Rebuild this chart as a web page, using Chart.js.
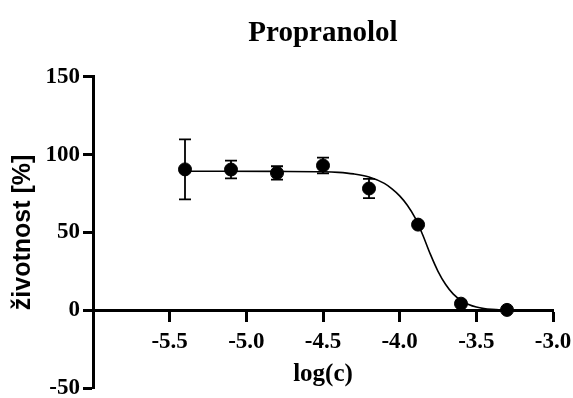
<!DOCTYPE html>
<html>
<head>
<meta charset="utf-8">
<script src="https://cdn.jsdelivr.net/npm/chart.js@4"></script>
<style>
  html, body { margin: 0; padding: 0; background: #fff; }
  #wrap { width: 573px; height: 398px; }
</style>
</head>
<body>
<div id="wrap"><canvas id="chart" width="573" height="398"></canvas></div>
<script>
// measured points (log concentration vs survival %)
const logConc = [-5.4, -5.1, -4.8, -4.5, -4.2, -3.88, -3.6, -3.3];
const survival = [90.5, 90.4, 88.2, 93.0, 78.2, 55.0, 4.2, 0.2];
const survivalErr = [19.3, 5.7, 4.3, 5.1, 6.2, 0.8, 0.8, 0.4];

// fitted curve
const curveX = [-5.4, -4.8, -4.5, -4.4, -4.3, -4.2, -4.1, -4.05, -4.0, -3.95, -3.9, -3.85, -3.8, -3.75, -3.7, -3.65, -3.6, -3.55, -3.5, -3.45, -3.4, -3.3];
const curveY = [89.3, 89.2, 89.0, 88.6, 87.6, 85.6, 81.5, 78.0, 73.5, 67.5, 59.5, 48.5, 36.0, 25.0, 16.5, 10.3, 6.3, 3.7, 2.0, 1.0, 0.5, 0.0];

const xTicks = [-5.5, -5.0, -4.5, -4.0, -3.5, -3.0];
const yTicks = [-50, 0, 50, 100, 150];

const serif = 'Liberation Serif';

// draws the vertical error bars with caps
const errorBars = {
    id: 'errorBars',
    afterDatasetsDraw(chart) {
        const ctx = chart.ctx;
        const meta = chart.getDatasetMeta(0);
        const yScale = chart.scales.y;
        ctx.save();
        ctx.strokeStyle = '#000';
        ctx.lineWidth = 1.8;
        meta.data.forEach((pt, i) => {
            const top = yScale.getPixelForValue(survival[i] + survivalErr[i]);
            const bot = yScale.getPixelForValue(survival[i] - survivalErr[i]);
            ctx.beginPath();
            ctx.moveTo(pt.x, top);
            ctx.lineTo(pt.x, bot);
            ctx.moveTo(pt.x - 6, top);
            ctx.lineTo(pt.x + 6, top);
            ctx.moveTo(pt.x - 6, bot);
            ctx.lineTo(pt.x + 6, bot);
            ctx.stroke();
        });
        ctx.restore();
    }
};

new Chart(document.getElementById('chart'), {
    type: 'scatter',
    data: {
        datasets: [{
            data: logConc.map((x, i) => ({ x: x, y: survival[i] })),
            backgroundColor: '#000',
            borderColor: '#000',
            pointRadius: 6.5,
            showLine: false
        }, {
            data: curveX.map((x, i) => ({ x: x, y: curveY[i] })),
            showLine: true,
            borderColor: '#000',
            borderWidth: 1.6,
            pointRadius: 0,
            cubicInterpolationMode: 'monotone'
        }]
    },
    options: {
        responsive: false,
        animation: false,
        layout: { padding: { left: 0, right: 20, top: 0, bottom: 10 } },
        plugins: {
            legend: { display: false },
            tooltip: { enabled: false },
            title: {
                display: true,
                text: 'Propranolol',
                fullSize: false,
                color: '#000',
                font: { family: serif, size: 29, weight: 'bold' },
                padding: { top: 16, bottom: 26 }
            }
        },
        scales: {
            x: {
                type: 'linear',
                position: { y: 0 },
                min: -6,
                max: -3,
                afterBuildTicks: (scale) => {
                    scale.ticks = [-6].concat(xTicks).map(v => ({ value: v }));
                },
                afterFit: (scale) => {
                    scale.paddingLeft = 0;
                    scale.paddingRight = 0;
                },
                ticks: {
                    color: '#000',
                    font: { family: serif, size: 23, weight: 'bold' },
                    padding: 8,
                    maxRotation: 0,
                    autoSkip: false,
                    callback: (v) => v === -6 ? '' : v.toFixed(1)
                },
                grid: {
                    drawOnChartArea: false,
                    drawTicks: true,
                    tickLength: 10,
                    tickWidth: 3,
                    tickColor: (c) => c.tick && c.tick.value === -6 ? 'rgba(0,0,0,0)' : '#000'
                },
                border: { color: '#000', width: 3 },
                title: {
                    display: true,
                    text: 'log(c)',
                    color: '#000',
                    font: { family: serif, size: 25, weight: 'bold' },
                    padding: { top: -4, bottom: 0 }
                }
            },
            y: {
                type: 'linear',
                min: -50,
                max: 150,
                afterBuildTicks: (scale) => {
                    scale.ticks = yTicks.map(v => ({ value: v }));
                },
                afterFit: (scale) => {
                    scale.width = 93;
                    scale.paddingTop = 0;
                    scale.paddingBottom = 0;
                },
                ticks: {
                    color: '#000',
                    font: { family: serif, size: 23, weight: 'bold' },
                    padding: 3
                },
                grid: {
                    drawOnChartArea: false,
                    drawTicks: true,
                    tickLength: 10,
                    tickWidth: 3,
                    tickColor: '#000'
                },
                border: { color: '#000', width: 3 },
                title: {
                    display: true,
                    text: 'životnost [%]',
                    color: '#000',
                    font: { family: 'Liberation Sans', size: 25, weight: 'bold' },
                    padding: { top: 8, bottom: 0 }
                }
            }
        }
    },
    plugins: [errorBars]
});
</script>
</body>
</html>
